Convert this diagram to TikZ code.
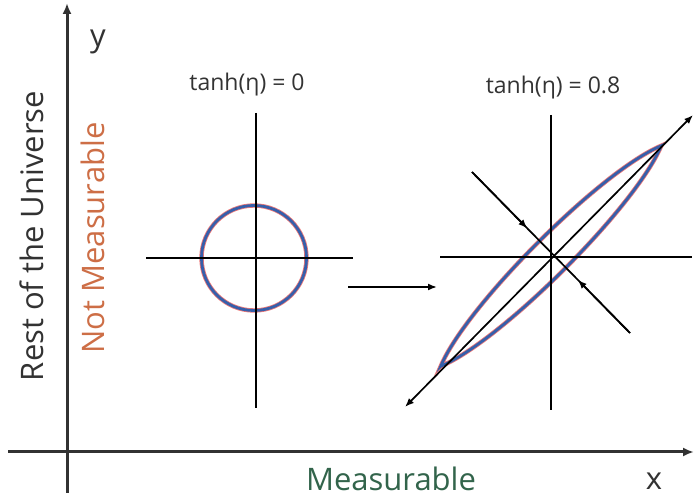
\documentclass[tikz,border=0pt]{standalone}
\usepackage{fontspec}
\setmainfont{Open Sans}
\usetikzlibrary{arrows.meta,calc}
\definecolor{axisgray}{RGB}{50,50,50}
\definecolor{ellblue}{RGB}{55,95,170}
\definecolor{ellred}{RGB}{235,120,120}
\definecolor{nmorange}{RGB}{205,110,70}
\definecolor{mgreen}{RGB}{50,100,75}
\tikzset{
  axisline/.style={draw=axisgray,line width=3pt,-{Latex[length=11pt,width=9pt]}},
  crossline/.style={draw=black,line width=2.2pt},
  arrline/.style={draw=black,line width=1.7pt},
  tipped/.style={-{Latex[length=9pt,width=7pt]}},
  halo/.style={draw=ellred,line width=4.4pt},
  ring/.style={draw=ellblue,line width=2.8pt},
  bigtxt/.style={font=\fontsize{31}{33}\selectfont,inner sep=0pt},
  smalltxt/.style={font=\fontsize{23}{25}\selectfont,text=black!80,inner sep=0pt}
}
\begin{document}
\begin{tikzpicture}[x=1pt,y=-1pt]
\useasboundingbox (0,0) rectangle (694,502);
% coordinates
\coordinate (yb) at (67,493);
\coordinate (yt) at (67,3);
\coordinate (xl) at (8,452);
\coordinate (xr) at (694,452);
\coordinate (lc) at (254,258);
\coordinate (lvt) at (256,113);
\coordinate (lvb) at (256,408);
\coordinate (lhl) at (146,258);
\coordinate (lhr) at (353,258);
\coordinate (rc) at (551,256);
\coordinate (rvt) at (551,115);
\coordinate (rvb) at (551,410);
\coordinate (rhl) at (440,257);
\coordinate (rhr) at (692,257);
\coordinate (dl) at (405,407);
\coordinate (dr) at (693,115);
\coordinate (al) at (472,172);
\coordinate (ar) at (630,333);
\coordinate (ms) at (348,287);
\coordinate (me) at (437,287);
% axes
\draw[axisline] (yb) -- (yt);
\draw[axisline] (xl) -- (xr);
\node[bigtxt,text=axisgray] (ylab) at (98,42) {y};
\node[bigtxt,text=axisgray] (xlab) at (654,481) {x};
\node[bigtxt,text=axisgray,rotate=90] (rest) at (32,236) {Rest of the Universe};
\node[bigtxt,text=nmorange,rotate=90] (notm) at (93,238) {Not Measurable};
\node[bigtxt,text=mgreen] (meas) at (391,479) {Measurable};
% left panel
\node[smalltxt] (t0) at (247,85) {tanh(η) = 0};
\draw[halo] (lc) circle[radius=52.5];
\draw[ring] (lc) circle[radius=52.5];
\draw[crossline] (lvt) -- (lvb);
\draw[crossline] (lhl) -- (lhr);
% transition arrow
\draw[arrline,tipped] (ms) -- (me);
% right panel
\node[smalltxt] (t8) at (553,88) {tanh(η) = 0.8};
\begin{scope}[shift={(rc)},rotate=45]
  \draw[halo] (-156,0) .. controls (-95,25) and (95,25) .. (156,0) .. controls (95,-25) and (-95,-25) .. cycle;
  \draw[ring] (-156,0) .. controls (-95,25) and (95,25) .. (156,0) .. controls (95,-25) and (-95,-25) .. cycle;
\end{scope}
\draw[crossline] (rvt) -- (rvb);
\draw[crossline] (rhl) -- (rhr);
\draw[arrline,{Latex[length=9pt,width=7pt]}-{Latex[length=9pt,width=7pt]}] (dl) -- (dr);
\draw[arrline] (al) -- (ar);
\draw[arrline,tipped] (al) -- ($(al)!0.35!(ar)$);
\draw[arrline,tipped] (ar) -- ($(al)!0.67!(ar)$);
\end{tikzpicture}
\end{document}
